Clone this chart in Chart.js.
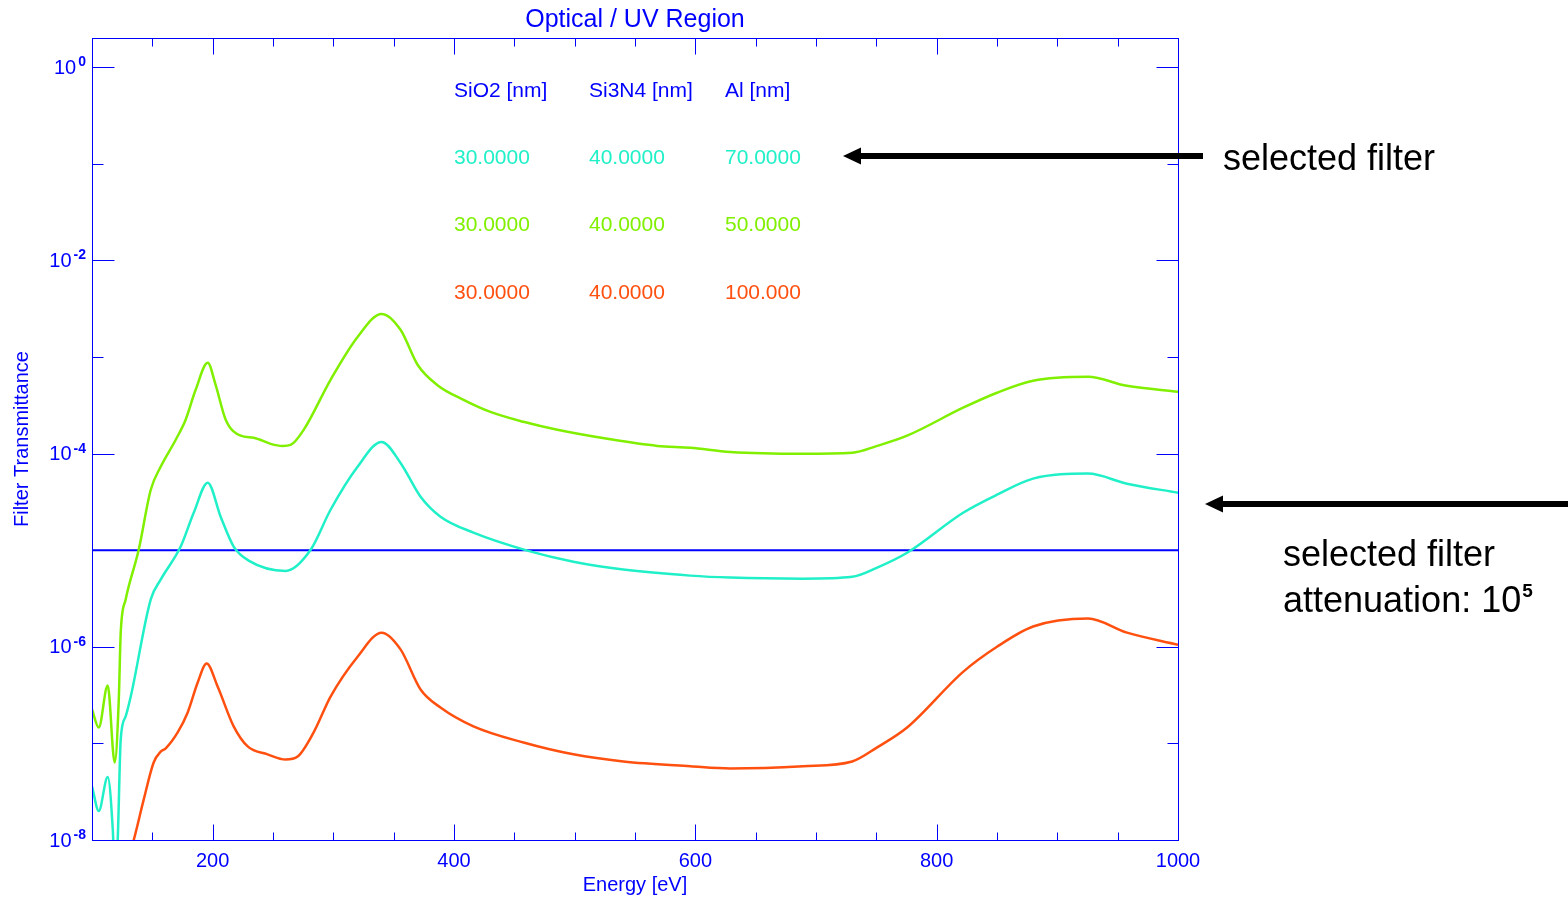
<!DOCTYPE html>
<html>
<head>
<meta charset="utf-8">
<title>Optical / UV Region</title>
<script src="https://cdn.jsdelivr.net/npm/chart.js@4.4.1/dist/chart.umd.min.js"></script>
<style>
  html, body { margin: 0; padding: 0; background: #fff; }
  #wrap { width: 1568px; height: 900px; position: relative; }
</style>
</head>
<body>
<div id="wrap"><canvas id="filterChart"></canvas></div>
<script>
// ---- data ----
// Al 70 nm (selected filter)
const energyAl70 = [100, 105.6, 113, 117.2, 119, 121.3, 123.8, 127.9, 132.1, 148.7, 156.9, 173.5, 184.3, 195.9, 206.6, 217.4, 229.8, 260.5, 281.2, 297.7, 320.1, 340, 355.7, 372.3, 388.8, 416.1, 460.8, 498.9, 540.3, 595.8, 628.9, 689.4, 730, 750.7, 775.5, 821.9, 850, 879.9, 925.4, 957.7, 1000];
const transAl70 = [3.6e-8, 2.0e-8, 4.5e-8, 1.3e-8, 4e-9, 1.0e-8, 1.1e-7, 1.9e-7, 3.05e-7, 3.1e-6, 4.95e-6, 1.09e-5, 2.44e-5, 5.0e-5, 2.22e-5, 1.09e-5, 7.8e-6, 6.1e-6, 1.01e-5, 2.62e-5, 7.3e-5, 1.32e-4, 8.0e-5, 3.57e-5, 2.22e-5, 1.52e-5, 9.9e-6, 7.6e-6, 6.3e-6, 5.45e-6, 5.2e-6, 5.07e-6, 5.3e-6, 6.6e-6, 9.4e-6, 2.44e-5, 3.75e-5, 5.5e-5, 6.2e-5, 4.87e-5, 3.93e-5];

// Al 50 nm
const energyAl50 = [100, 105.6, 113, 118.8, 122.2, 123.8, 127.9, 138.7, 148.7, 156.9, 169.4, 177.6, 185.9, 195.9, 202.5, 210.8, 223.2, 234, 248, 257.9, 264.6, 275.4, 297.7, 320.1, 340, 355.7, 369.8, 386.3, 407.9, 430.2, 457.6, 485.7, 527.1, 568.5, 595.8, 628.9, 689.4, 730, 750.7, 775.5, 821.9, 850, 879.9, 925.4, 957.7, 1000];
const transAl50 = [2.24e-7, 1.46e-7, 3.97e-7, 6.35e-8, 2.84e-7, 1.4e-6, 3.08e-6, 1.01e-5, 4.22e-5, 7.3e-5, 1.39e-4, 2.24e-4, 4.57e-4, 8.7e-4, 5.1e-4, 2.24e-4, 1.53e-4, 1.46e-4, 1.26e-4, 1.2e-4, 1.23e-4, 1.76e-4, 5.8e-4, 1.61e-3, 2.79e-3, 1.91e-3, 8.3e-4, 5.1e-4, 3.6e-4, 2.7e-4, 2.13e-4, 1.76e-4, 1.42e-4, 1.2e-4, 1.15e-4, 1.04e-4, 9.96e-5, 1.02e-4, 1.2e-4, 1.53e-4, 2.98e-4, 4.26e-4, 5.66e-4, 6.22e-4, 5.02e-4, 4.36e-4];

// Al 100 nm
const energyAl100 = [131, 134.6, 142.9, 151.1, 156.9, 161.1, 171, 179.3, 187.6, 195, 204.1, 217.4, 229, 245.5, 260.5, 270.4, 283.7, 297.7, 320.1, 340, 355.7, 372.3, 388.8, 416.1, 457.6, 498.9, 540.3, 595.8, 628.9, 689.4, 730, 750.7, 775.5, 821.9, 850, 879.9, 925.4, 957.7, 1000];
const transAl100 = [7e-9, 1.0e-8, 2.63e-8, 6.35e-8, 8.2e-8, 8.9e-8, 1.3e-7, 2.09e-7, 4.27e-7, 6.7e-7, 3.88e-7, 1.5e-7, 9.3e-8, 7.7e-8, 6.8e-8, 7.3e-8, 1.3e-7, 3.05e-7, 7.9e-7, 1.4e-6, 9.4e-7, 3.61e-7, 2.35e-7, 1.5e-7, 1.02e-7, 7.7e-8, 6.5e-8, 5.8e-8, 5.5e-8, 5.8e-8, 6.5e-8, 9.1e-8, 1.46e-7, 5.5e-7, 1.0e-6, 1.62e-6, 1.96e-6, 1.4e-6, 1.05e-6];

// required attenuation 10^5
const attenuationLevel = 1e-5;

// filter table (thickness in nm)
const filterSiO2 = [30, 30, 30];
const filterSi3N4 = [40, 40, 40];
const filterAl = [70, 50, 100];
const filterColors = ["#20f0c8", "#80f000", "#ff5010"];
const tableHeaders = ["SiO2 [nm]", "Si3N4 [nm]", "Al [nm]"];

// axes
const xMin = 100;
const xMax = 1000;
const xTickLabels = [200, 400, 600, 800, 1000];
const yMin = 1e-8;
const yMax = 2;
const yTickExponents = [0, -2, -4, -6, -8];

const BLUE = "#0000ff";
const FONT = "'Liberation Sans', Arial, sans-serif";

const toPoints = (xs, ys) => xs.map((x, i) => ({ x: x, y: ys[i] }));

// draws the IDL-style frame, ticks, labels and the annotations
const decorations = {
  id: "decorations",
  afterDraw(chart) {
    const { ctx, chartArea: area } = chart;
    const xs = chart.scales.x;
    const ys = chart.scales.y;
    const seg = (x1, y1, x2, y2) => {
      ctx.beginPath();
      ctx.moveTo(x1, y1);
      ctx.lineTo(x2, y2);
      ctx.stroke();
    };

    ctx.save();
    ctx.strokeStyle = BLUE;
    ctx.lineWidth = 1;
    const L = Math.round(area.left) + 0.5, R = Math.round(area.right) + 0.5;
    const T = Math.round(area.top) + 0.5, B = Math.round(area.bottom) + 0.5;
    ctx.strokeRect(L, T, R - L, B - T);

    // x ticks (major every 200, minor every 50)
    for (let e = xMin + 50; e < xMax; e += 50) {
      const px = Math.round(xs.getPixelForValue(e)) + 0.5;
      const len = e % 200 === 0 ? 16 : 8;
      seg(px, B, px, B - len);
      seg(px, T, px, T + len);
    }
    // y ticks (major every 2 decades)
    for (let p = 0; p >= -7; p--) {
      const py = Math.round(ys.getPixelForValue(Math.pow(10, p))) + 0.5;
      const len = p % 2 === 0 ? 22 : 11;
      seg(L, py, L + len, py);
      seg(R, py, R - len, py);
    }

    ctx.fillStyle = BLUE;
    ctx.textBaseline = "middle";

    // x tick labels
    ctx.font = "20px " + FONT;
    ctx.textAlign = "center";
    xTickLabels.forEach((v) => {
      ctx.fillText(String(v), xs.getPixelForValue(v), 861);
    });

    // y tick labels 10^n
    yTickExponents.forEach((p) => {
      const py = ys.getPixelForValue(Math.pow(10, p));
      const sup = p === 0 ? "0" : "-" + Math.abs(p);
      ctx.font = "bold 14px " + FONT;
      ctx.textAlign = "right";
      ctx.textBaseline = "alphabetic";
      ctx.fillText(sup, 86, py - 1);
      const w = ctx.measureText(sup).width;
      ctx.font = "20px " + FONT;
      ctx.textBaseline = "middle";
      ctx.fillText("10", 86 - w - 2, py + 1);
    });

    // titles
    ctx.textAlign = "center";
    ctx.textBaseline = "middle";
    ctx.font = "25px " + FONT;
    ctx.fillText("Optical / UV Region", (area.left + area.right) / 2, 20);
    ctx.font = "20px " + FONT;
    ctx.fillText("Energy [eV]", (area.left + area.right) / 2, 885);
    ctx.save();
    ctx.translate(22, (area.top + area.bottom) / 2);
    ctx.rotate(-Math.PI / 2);
    ctx.fillText("Filter Transmittance", 0, 0);
    ctx.restore();

    // filter table
    const cols = [454, 589, 725];
    ctx.textAlign = "left";
    ctx.font = "21px " + FONT;
    tableHeaders.forEach((h, i) => ctx.fillText(h, cols[i], 91));
    [158, 225, 293].forEach((rowY, r) => {
      ctx.fillStyle = filterColors[r];
      ctx.fillText(filterSiO2[r].toPrecision(6), cols[0], rowY);
      ctx.fillText(filterSi3N4[r].toPrecision(6), cols[1], rowY);
      ctx.fillText(filterAl[r].toPrecision(6), cols[2], rowY);
    });

    // black annotation arrows and text
    const arrow = (xTail, xTip, y) => {
      ctx.strokeStyle = "#000";
      ctx.lineWidth = 6;
      seg(xTail, y, xTip + 14, y);
      ctx.fillStyle = "#000";
      ctx.beginPath();
      ctx.moveTo(xTip, y);
      ctx.lineTo(xTip + 18, y - 8.5);
      ctx.lineTo(xTip + 18, y + 8.5);
      ctx.closePath();
      ctx.fill();
    };
    arrow(1203, 843, 156);
    arrow(1568, 1205, 504);

    ctx.fillStyle = "#000";
    ctx.textAlign = "left";
    ctx.textBaseline = "alphabetic";
    ctx.font = "36px " + FONT;
    ctx.fillText("selected filter", 1223, 170);
    ctx.fillText("selected filter", 1283, 566);
    ctx.fillText("attenuation: 10", 1283, 612);
    const aw = ctx.measureText("attenuation: 10").width;
    ctx.font = "bold 19px " + FONT;
    ctx.fillText("5", 1283 + aw + 1, 597);

    ctx.restore();
  },
};

const ctx = document.getElementById("filterChart");
new Chart(ctx, {
  type: "line",
  data: {
    datasets: [
      {
        label: "Al 70 nm",
        data: toPoints(energyAl70, transAl70),
        borderColor: filterColors[0],
        borderWidth: 2.5,
        pointRadius: 0,
        cubicInterpolationMode: "monotone",
      },
      {
        label: "Al 50 nm",
        data: toPoints(energyAl50, transAl50),
        borderColor: filterColors[1],
        borderWidth: 2.5,
        pointRadius: 0,
        cubicInterpolationMode: "monotone",
      },
      {
        label: "Al 100 nm",
        data: toPoints(energyAl100, transAl100),
        borderColor: filterColors[2],
        borderWidth: 2.5,
        pointRadius: 0,
        cubicInterpolationMode: "monotone",
      },
      {
        label: "attenuation",
        data: [
          { x: xMin, y: attenuationLevel },
          { x: xMax, y: attenuationLevel },
        ],
        borderColor: BLUE,
        borderWidth: 2,
        pointRadius: 0,
      },
    ],
  },
  options: {
    responsive: true,
    maintainAspectRatio: false,
    animation: false,
    layout: { padding: { left: 92, right: 390, top: 38, bottom: 60 } },
    plugins: {
      legend: { display: false },
      tooltip: { enabled: false },
    },
    scales: {
      x: { type: "linear", min: xMin, max: xMax, display: false },
      y: { type: "logarithmic", min: yMin, max: yMax, display: false },
    },
  },
  plugins: [decorations],
});
</script>
</body>
</html>
